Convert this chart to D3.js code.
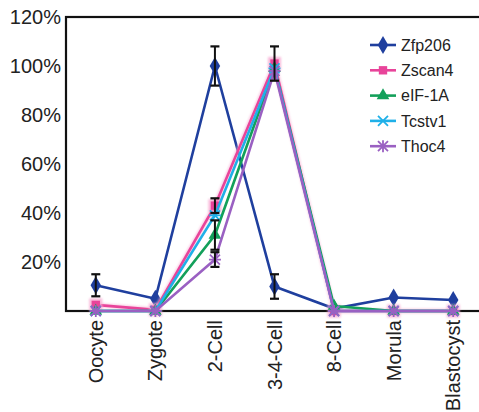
<!DOCTYPE html>
<html>
<head>
<meta charset="utf-8">
<script src="https://cdn.jsdelivr.net/npm/d3@7"></script>
<style>
  body { margin: 0; background: #fff; }
  svg { font-family: "Liberation Sans", Arial, sans-serif; }
</style>
</head>
<body>
<script>
// stages on the x axis
var stages = ["Oocyte", "Zygote", "2-Cell", "3-4-Cell", "8-Cell", "Morula", "Blastocyst"];

// relative expression (%)
var zfp206 = [10.5, 5, 100, 10, 1, 5.5, 4.5];
var zscan4 = [2.5, 0.5, 43, 101, 0, 0, 0];
var eif1a  = [0, 0, 31, 99, 2, 0, 0];
var tcstv1 = [0, 0, 39, 99, 0, 0, 0];
var thoc4  = [0, 0, 21, 98, 0, 0, 0];

// error bar half-heights (0 = none drawn)
var zfp206Err = [4.5, 0, 8, 5, 0, 0, 0];
var zscan4Err = [0, 0, 3, 7, 0, 0, 0];
var eif1aErr  = [0, 0, 6, 0, 0, 0, 0];
var thoc4Err  = [0, 0, 3, 0, 0, 0, 0];

var yTicks = [20, 40, 60, 80, 100, 120];

var series = [
    {name: "Zfp206", values: zfp206, err: zfp206Err, color: "#1f3f9e", marker: "diamond"},
    {name: "Zscan4", values: zscan4, err: zscan4Err, color: "#e8449a", marker: "square", glow: true},
    {name: "eIF-1A", values: eif1a,  err: eif1aErr,  color: "#13a05a", marker: "triangle"},
    {name: "Tcstv1", values: tcstv1, err: null,      color: "#1fb0e8", marker: "cross"},
    {name: "Thoc4",  values: thoc4,  err: thoc4Err,  color: "#9a60c2", marker: "star"}
];

var width = 479, height = 412;
var margin = {top: 17, left: 66, bottom: 311, right: 483};

var svg = d3.select("body").append("svg")
    .attr("width", width)
    .attr("height", height);

var x = d3.scalePoint()
    .domain(stages)
    .range([margin.left, margin.right])
    .padding(0.5);

var y = d3.scaleLinear()
    .domain([0, 120])
    .range([margin.bottom, margin.top]);

// soft blur for the pink halo
var defs = svg.append("defs");
defs.append("filter").attr("id", "glow")
    .attr("x", "-20%").attr("y", "-20%").attr("width", "140%").attr("height", "140%")
    .append("feGaussianBlur").attr("stdDeviation", 1.3);

// frame
svg.append("rect")
    .attr("x", margin.left)
    .attr("y", margin.top)
    .attr("width", margin.right - margin.left)
    .attr("height", margin.bottom - margin.top)
    .attr("fill", "none")
    .attr("stroke", "#111")
    .attr("stroke-width", 2.2);

// y labels
svg.selectAll(".ylab")
    .data(yTicks)
    .enter().append("text")
    .attr("class", "ylab")
    .attr("x", margin.left - 5)
    .attr("y", function(d){ return y(d); })
    .attr("dy", "0.36em")
    .attr("text-anchor", "end")
    .attr("font-size", 20)
    .attr("fill", "#222")
    .text(function(d){ return d + "%"; });

// x labels, rotated
svg.selectAll(".xlab")
    .data(stages)
    .enter().append("text")
    .attr("class", "xlab")
    .attr("transform", function(d){ return "translate(" + (x(d) + 7) + "," + (margin.bottom + 9) + ") rotate(-90)"; })
    .attr("text-anchor", "end")
    .attr("font-size", 20)
    .attr("fill", "#222")
    .text(function(d){ return d; });

var line = d3.line()
    .x(function(d, i){ return x(stages[i]); })
    .y(function(d){ return y(d); });

function markerPath(type){
    switch (type) {
        case "diamond": return d3.symbol(d3.symbolDiamond, 95)();
        case "square": return d3.symbol(d3.symbolSquare, 70)();
        case "triangle": return d3.symbol(d3.symbolTriangle, 70)();
        case "cross": return "M-5,-5L5,5M-5,5L5,-5M-6,0L6,0";
        case "star": return "M-5,-5L5,5M-5,5L5,-5M-6,0L6,0M0,-6L0,6";
    }
}
function isStroked(type){ return type === "cross" || type === "star"; }

function drawMarker(g, s, cx, cy){
    var m = g.append("path")
        .attr("d", markerPath(s.marker))
        .attr("transform", "translate(" + cx + "," + cy + ")");
    if (isStroked(s.marker)) {
        m.attr("fill", "none").attr("stroke", s.color).attr("stroke-width", 1.8);
    } else {
        m.attr("fill", s.color);
    }
}

// series
series.forEach(function(s){
    var g = svg.append("g").attr("class", "series");
    if (s.glow) {
        g.append("path")
            .datum(s.values)
            .attr("d", line)
            .attr("fill", "none")
            .attr("stroke", "#f7b3d6")
            .attr("stroke-width", 4.5)
            .attr("opacity", 0.7)
            .attr("filter", "url(#glow)");
    }
    g.append("path")
        .datum(s.values)
        .attr("d", line)
        .attr("fill", "none")
        .attr("stroke", s.color)
        .attr("stroke-width", 2.6);
    s.values.forEach(function(v, i){
        if (s.glow) {
            g.append("rect")
                .attr("x", x(stages[i]) - 6.5).attr("y", y(v) - 6.5)
                .attr("width", 13).attr("height", 13)
                .attr("fill", "#f7a6d0")
                .attr("opacity", 0.8)
                .attr("filter", "url(#glow)");
        }
        drawMarker(g, s, x(stages[i]), y(v));
    });
});

// error bars on top
var eb = svg.append("g").attr("class", "errorbars");
series.forEach(function(s){
    if (!s.err) return;
    s.values.forEach(function(v, i){
        var e = s.err[i];
        if (!e) return;
        var cx = x(stages[i]);
        eb.append("line")
            .attr("x1", cx).attr("x2", cx)
            .attr("y1", y(v - e)).attr("y2", y(v + e))
            .attr("stroke", "#111").attr("stroke-width", 2);
        [v - e, v + e].forEach(function(c){
            eb.append("line")
                .attr("x1", cx - 4.5).attr("x2", cx + 4.5)
                .attr("y1", y(c)).attr("y2", y(c))
                .attr("stroke", "#111").attr("stroke-width", 2.2);
        });
    });
});

// legend
var legend = svg.append("g").attr("class", "legend");
series.forEach(function(s, i){
    var ly = 45 + i * 25.3;
    var row = legend.append("g");
    if (s.glow) {
        row.append("line")
            .attr("x1", 370).attr("x2", 396).attr("y1", ly).attr("y2", ly)
            .attr("stroke", "#f7b3d6").attr("stroke-width", 4.5)
            .attr("opacity", 0.7)
            .attr("filter", "url(#glow)");
    }
    row.append("line")
        .attr("x1", 370).attr("x2", 396).attr("y1", ly).attr("y2", ly)
        .attr("stroke", s.color).attr("stroke-width", 2.6);
    drawMarker(row, s, 383, ly);
    row.append("text")
        .attr("x", 401)
        .attr("y", ly)
        .attr("dy", "0.36em")
        .attr("font-size", 16)
        .attr("fill", "#222")
        .text(s.name);
});
</script>
</body>
</html>
